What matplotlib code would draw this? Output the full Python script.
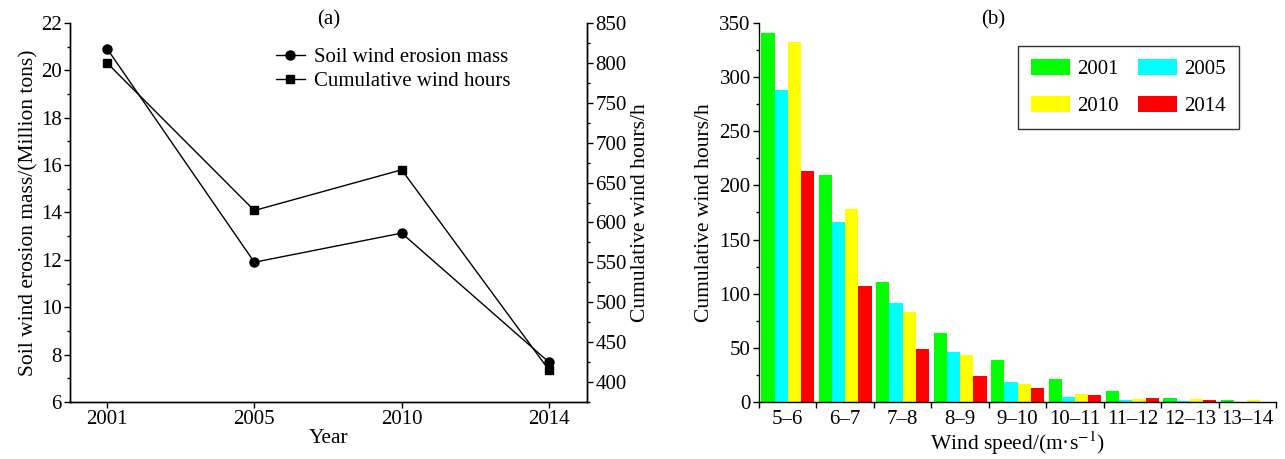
import numpy as np
import matplotlib
matplotlib.use("Agg")
import matplotlib.pyplot as plt
from matplotlib.ticker import MultipleLocator

plt.rcParams["font.family"] = ["Liberation Serif", "DejaVu Serif"]
plt.rcParams["mathtext.fontset"] = "stix"

# (a) yearly series
years = ["2001", "2005", "2010", "2014"]
erosion_mass = [20.92, 11.9, 13.13, 7.68]
wind_hours_total = [800, 615, 666, 415]

# (b) cumulative wind hours by wind speed class
speed_bins = ["5–6", "6–7", "7–8", "8–9", "9–10", "10–11", "11–12", "12–13", "13–14"]
hours_2001 = [341, 210, 111, 64, 39, 21, 9.8, 3.7, 1.5]
hours_2005 = [288, 166, 91.5, 46, 18.4, 5, 1.5, 0.5, 0.3]
hours_2010 = [332, 178, 83, 43, 17, 7.4, 2.5, 2.5, 1.8]
hours_2014 = [213, 107, 49, 23.6, 12.6, 6.8, 3.4, 1.8, 0.2]

FS = 15
LFS = 15.5

fig = plt.figure(figsize=(12.85, 4.59), dpi=100)

# ---- panel (a)
ax1 = fig.add_axes([0.0545, 0.1242, 0.4023, 0.8257])
x = np.arange(len(years))
l1, = ax1.plot(x, erosion_mass, "k-", marker="o", markersize=6.5, linewidth=1,
               label="Soil wind erosion mass")
ax1.set_xlim(-0.251, 3.258)
ax1.set_ylim(6, 22)
ax1.yaxis.set_major_locator(MultipleLocator(2))
ax1.yaxis.set_minor_locator(MultipleLocator(1))
ax1.set_xticks(x)
ax1.set_xticklabels(years)
ax1.set_xlabel("Year", fontsize=LFS, labelpad=0)
ax1.set_ylabel("Soil wind erosion mass/(Million tons)", fontsize=LFS, labelpad=2)
ax1.spines["top"].set_visible(False)

ax2 = ax1.twinx()
l2, = ax2.plot(x, wind_hours_total, "k-", marker="s", markersize=6, linewidth=1,
               label="Cumulative wind hours")
ax2.set_ylim(375, 850)
ax2.yaxis.set_major_locator(MultipleLocator(50))
ax2.yaxis.set_minor_locator(MultipleLocator(25))
ax2.set_ylabel("Cumulative wind hours/h", fontsize=LFS, labelpad=3)
ax2.spines["top"].set_visible(False)

for a in (ax1, ax2):
    a.tick_params(labelsize=FS, direction="out", length=4, width=1, pad=2)
    a.tick_params(which="minor", length=2.3, width=1)
    for s in a.spines.values():
        s.set_linewidth(1)

ax1.legend(handles=[l1, l2], loc="upper left", bbox_to_anchor=(0.398, 0.935),
           frameon=False, fontsize=FS, handlelength=1.4, handletextpad=0.45,
           labelspacing=0.2, borderaxespad=0, borderpad=0)
ax1.text(0.5, 1.008, "(a)", transform=ax1.transAxes, ha="center", va="center",
         fontsize=FS)

# ---- panel (b)
ax3 = fig.add_axes([0.5907, 0.1242, 0.4023, 0.8257])
xc = np.arange(len(speed_bins)) + 0.5
w = 0.23
series = [(hours_2001, "#00ff00", "2001"), (hours_2005, "#00ffff", "2005"),
          (hours_2010, "#ffff00", "2010"), (hours_2014, "#ff0000", "2014")]
bars = []
for i, (vals, col, lab) in enumerate(series):
    b = ax3.bar(xc + (i - 1.5) * w, vals, w, color=col, label=lab, linewidth=0)
    bars.append(b)
ax3.set_xlim(0, len(speed_bins))
ax3.set_ylim(0, 350)
ax3.set_xticks(np.arange(len(speed_bins) + 1))
ax3.set_xticklabels([])
ax3.set_xticks(xc, minor=True)
ax3.set_xticklabels(speed_bins, minor=True)
ax3.tick_params(axis="x", which="minor", length=0, labelsize=FS, pad=6)
ax3.tick_params(axis="x", which="major", length=4.5, width=1, direction="out")
ax3.yaxis.set_major_locator(MultipleLocator(50))
ax3.yaxis.set_minor_locator(MultipleLocator(25))
ax3.tick_params(axis="y", labelsize=FS, direction="out", length=4, width=1, pad=2)
ax3.tick_params(axis="y", which="minor", length=2.3, width=1)
ax3.spines["top"].set_visible(False)
ax3.spines["right"].set_visible(False)
for s in ax3.spines.values():
    s.set_linewidth(1)
ax3.set_ylabel("Cumulative wind hours/h", fontsize=LFS, labelpad=4)
ax3.set_xlabel("Wind speed/(m·s$^{-1}$)", fontsize=LFS, labelpad=0)
ax3.text(0.453, 1.008, "(b)", transform=ax3.transAxes, ha="center", va="center",
         fontsize=FS)

leg = ax3.legend(handles=[bars[0], bars[2], bars[1], bars[3]], ncol=2,
                 loc="upper left", bbox_to_anchor=(0.501, 0.939), fontsize=FS,
                 fancybox=False, edgecolor="black", handlelength=1.9,
                 handleheight=0.85, columnspacing=0.9, labelspacing=0.8,
                 handletextpad=0.35, borderpad=0.6, borderaxespad=0)
leg.get_frame().set_linewidth(1)

fig.savefig("out.png", dpi=100)
